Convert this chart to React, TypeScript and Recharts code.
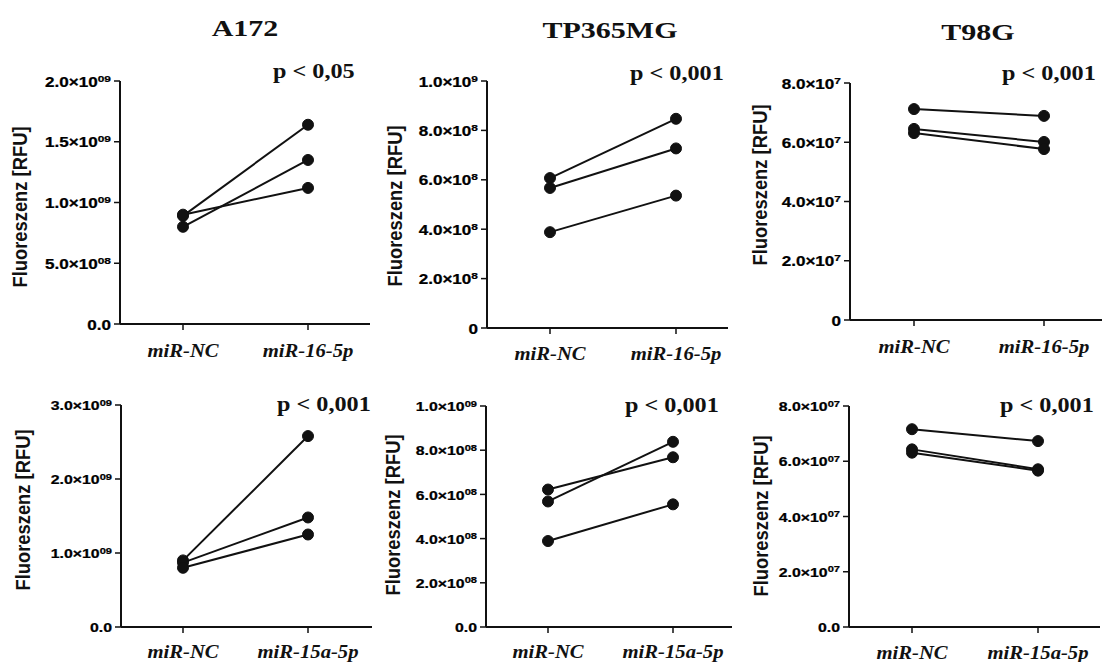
import React from "react";
import { LineChart, Line, XAxis, YAxis } from "recharts";

// categories
const CATS_16 = ["miR-NC", "miR-16-5p"];
const CATS_15 = ["miR-NC", "miR-15a-5p"];

// fluorescence values per replicate (RFU), before / after
const a172Nc16 = [8.9e8, 8.0e8, 9.0e8];
const a172Mir16 = [1.64e9, 1.35e9, 1.12e9];
const tp365Nc16 = [6.07e8, 5.67e8, 3.88e8];
const tp365Mir16 = [8.47e8, 7.27e8, 5.36e8];
const t98gNc16 = [7.12e7, 6.45e7, 6.31e7];
const t98gMir16 = [6.89e7, 6.01e7, 5.77e7];

const a172Nc15 = [9.0e8, 8.7e8, 8.0e8];
const a172Mir15 = [2.58e9, 1.48e9, 1.25e9];
const tp365Nc15 = [5.68e8, 6.22e8, 3.89e8];
const tp365Mir15 = [8.38e8, 7.68e8, 5.55e8];
const t98gNc15 = [7.16e7, 6.43e7, 6.31e7];
const t98gMir15 = [6.73e7, 5.71e7, 5.66e7];

// y ticks and their labels ("^" marks the exponent)
const ticksA172_16 = [0, 5e8, 1e9, 1.5e9, 2e9];
const labelsA172_16 = ["0.0", "5.0×10^08", "1.0×10^09", "1.5×10^09", "2.0×10^09"];
const ticksTp_16 = [0, 2e8, 4e8, 6e8, 8e8, 1e9];
const labelsTp_16 = ["0", "2.0×10^8", "4.0×10^8", "6.0×10^8", "8.0×10^8", "1.0×10^9"];
const ticksT98_16 = [0, 2e7, 4e7, 6e7, 8e7];
const labelsT98_16 = ["0", "2.0×10^7", "4.0×10^7", "6.0×10^7", "8.0×10^7"];
const ticksA172_15 = [0, 1e9, 2e9, 3e9];
const labelsA172_15 = ["0.0", "1.0×10^09", "2.0×10^09", "3.0×10^09"];
const ticksTp_15 = [0, 2e8, 4e8, 6e8, 8e8, 1e9];
const labelsTp_15 = ["0.0", "2.0×10^08", "4.0×10^08", "6.0×10^08", "8.0×10^08", "1.0×10^09"];
const ticksT98_15 = [0, 2e7, 4e7, 6e7, 8e7];
const labelsT98_15 = ["0.0", "2.0×10^07", "4.0×10^07", "6.0×10^07", "8.0×10^07"];

const TITLES = ["A172", "TP365MG", "T98G"];
const P_TOP = ["p < 0,05", "p < 0,001", "p < 0,001"];
const P_BOTTOM = ["p < 0,001", "p < 0,001", "p < 0,001"];
const Y_LABEL = "Fluoreszenz [RFU]";

const SERIF = '"Liberation Serif", "Times New Roman", serif';
const SANS = '"Liberation Sans", Arial, sans-serif';
const INK = "#111";

const Y_W = 120;
const PAD_T = 15;
const PAD_R = 6;
const X_H = 45;
const PAD_B = 2;

type Geo = {
  axisX: number;
  axisRight: number;
  topY: number;
  zeroY: number;
  ncX: number;
  trtX: number;
  fs: number;
  labelDy: number;
};

function pairRows(cats: string[], before: number[], after: number[]) {
  const row = (name: string, vals: number[]) => {
    const r: Record<string, number | string> = { name };
    vals.forEach((v, i) => (r[`s${i}`] = v));
    return r;
  };
  return [row(cats[0], before), row(cats[1], after)];
}

function SciTick(props: any) {
  const { x, y, payload, ticks, labels, fs } = props;
  const label: string = labels[ticks.indexOf(payload.value)] ?? "";
  const [base, exp] = label.split("^");
  return (
    <g transform={`translate(${x},${y})`}>
      <text
        transform="scale(1.22,1)"
        textAnchor="end"
        dy={fs * 0.4}
        fontFamily={SANS}
        fontWeight="bold"
        fontSize={fs}
        fill="#000"
        stroke="#000"
        strokeWidth={0.25}
      >
        {base}
        {exp ? (
          <tspan dy={-fs * 0.36} fontSize={fs * 0.7}>
            {exp}
          </tspan>
        ) : null}
      </text>
    </g>
  );
}

function CatTick(props: any) {
  const { x, y, payload, labelDy } = props;
  return (
    <g transform={`translate(${x},${y})`}>
      <text
        transform="scale(1.15,1)"
        textAnchor="middle"
        dy={labelDy}
        fontFamily={SERIF}
        fontStyle="italic"
        fontWeight="bold"
        fontSize={18}
        fill={INK}
      >
        {payload.value}
      </text>
    </g>
  );
}

function PairedPanel({
  geo,
  cats,
  before,
  after,
  ticks,
  labels,
}: {
  geo: Geo;
  cats: string[];
  before: number[];
  after: number[];
  ticks: number[];
  labels: string[];
}) {
  const data = pairRows(cats, before, after);
  const left = geo.axisX - Y_W;
  const top = geo.topY - PAD_T;
  const width = geo.axisRight - left + PAD_R;
  const height = geo.zeroY - geo.topY + PAD_T + X_H + PAD_B;

  return (
    <div style={{ position: "absolute", left, top, width, height }}>
      <LineChart
        width={width}
        height={height}
        data={data}
        margin={{ top: PAD_T, right: PAD_R, bottom: PAD_B, left: 0 }}
      >
        <XAxis
          dataKey="name"
          height={X_H}
          interval={0}
          padding={{ left: geo.ncX - geo.axisX, right: geo.axisRight - geo.trtX }}
          axisLine={{ stroke: INK, strokeWidth: 2 }}
          tickLine={{ stroke: INK, strokeWidth: 1.5 }}
          tickSize={6}
          tick={(p: any) => <CatTick {...p} labelDy={geo.labelDy} />}
        />
        <YAxis
          width={Y_W}
          domain={[0, ticks[ticks.length - 1]]}
          ticks={ticks}
          interval={0}
          tickSize={6}
          tickMargin={3}
          axisLine={{ stroke: INK, strokeWidth: 2 }}
          tickLine={{ stroke: INK, strokeWidth: 1.5 }}
          tick={(p: any) => <SciTick {...p} ticks={ticks} labels={labels} fs={geo.fs} />}
        />
        {before.map((_, i) => (
          <Line
            key={i}
            type="linear"
            dataKey={`s${i}`}
            stroke={INK}
            strokeWidth={2}
            dot={{ r: 5.5, fill: INK, stroke: INK, strokeWidth: 1 }}
            activeDot={false}
            isAnimationActive={false}
          />
        ))}
      </LineChart>
    </div>
  );
}

const geoTop: Geo[] = [
  { axisX: 120, axisRight: 370, topY: 81, zeroY: 324, ncX: 183, trtX: 308, fs: 14, labelDy: 25 },
  { axisX: 487, axisRight: 728, topY: 81, zeroY: 328, ncX: 550, trtX: 676, fs: 14, labelDy: 24 },
  { axisX: 850, axisRight: 1102, topY: 83, zeroY: 320, ncX: 914, trtX: 1044, fs: 14, labelDy: 25 },
];
const geoBottom: Geo[] = [
  { axisX: 121, axisRight: 372, topY: 405, zeroY: 627, ncX: 183, trtX: 308, fs: 13, labelDy: 23 },
  { axisX: 486, axisRight: 732, topY: 406, zeroY: 627, ncX: 548, trtX: 673, fs: 13, labelDy: 23 },
  { axisX: 849, axisRight: 1100, topY: 406, zeroY: 627, ncX: 912, trtX: 1038, fs: 13, labelDy: 24 },
];

const titlePos = [
  { x: 245, y: 36 },
  { x: 610, y: 38 },
  { x: 978, y: 40 },
];
const pPosTop = [
  { x: 273, y: 78 },
  { x: 630, y: 80 },
  { x: 1002, y: 80 },
];
const pPosBottom = [
  { x: 277, y: 411 },
  { x: 625, y: 412 },
  { x: 1000, y: 412 },
];
const yLabelPos = [
  { x: 20, y: 207 },
  { x: 395, y: 206 },
  { x: 760, y: 185 },
  { x: 23, y: 510 },
  { x: 393, y: 515 },
  { x: 761, y: 516 },
];

export default function App() {
  return (
    <div
      style={{
        position: "absolute",
        left: 0,
        top: 0,
        width: 1106,
        height: 662,
        background: "#fff",
        overflow: "hidden",
      }}
    >
      <PairedPanel geo={geoTop[0]} cats={CATS_16} before={a172Nc16} after={a172Mir16} ticks={ticksA172_16} labels={labelsA172_16} />
      <PairedPanel geo={geoTop[1]} cats={CATS_16} before={tp365Nc16} after={tp365Mir16} ticks={ticksTp_16} labels={labelsTp_16} />
      <PairedPanel geo={geoTop[2]} cats={CATS_16} before={t98gNc16} after={t98gMir16} ticks={ticksT98_16} labels={labelsT98_16} />
      <PairedPanel geo={geoBottom[0]} cats={CATS_15} before={a172Nc15} after={a172Mir15} ticks={ticksA172_15} labels={labelsA172_15} />
      <PairedPanel geo={geoBottom[1]} cats={CATS_15} before={tp365Nc15} after={tp365Mir15} ticks={ticksTp_15} labels={labelsTp_15} />
      <PairedPanel geo={geoBottom[2]} cats={CATS_15} before={t98gNc15} after={t98gMir15} ticks={ticksT98_15} labels={labelsT98_15} />

      <svg
        width={1106}
        height={662}
        style={{ position: "absolute", left: 0, top: 0, pointerEvents: "none" }}
      >
        {TITLES.map((t, i) => (
          <text
            key={t}
            transform={`translate(${titlePos[i].x},${titlePos[i].y}) scale(1.25,1)`}
            textAnchor="middle"
            fontFamily={SERIF}
            fontWeight="bold"
            fontSize={24}
            fill={INK}
          >
            {t}
          </text>
        ))}
        {[...P_TOP.map((p, i) => ({ p, pos: pPosTop[i] })), ...P_BOTTOM.map((p, i) => ({ p, pos: pPosBottom[i] }))].map(
          ({ p, pos }, i) => (
            <text
              key={`p${i}`}
              transform={`translate(${pos.x},${pos.y}) scale(1.1,1)`}
              fontFamily={SERIF}
              fontWeight="bold"
              fontSize={22}
              fill={INK}
            >
              {p}
            </text>
          )
        )}
        {yLabelPos.map((pos, i) => (
          <text
            key={`y${i}`}
            transform={`translate(${pos.x},${pos.y}) rotate(-90) scale(1.08,1.15)`}
            textAnchor="middle"
            dy={6}
            fontFamily={SANS}
            fontWeight="bold"
            fontSize={17}
            fill={INK}
          >
            {Y_LABEL}
          </text>
        ))}
      </svg>
    </div>
  );
}
